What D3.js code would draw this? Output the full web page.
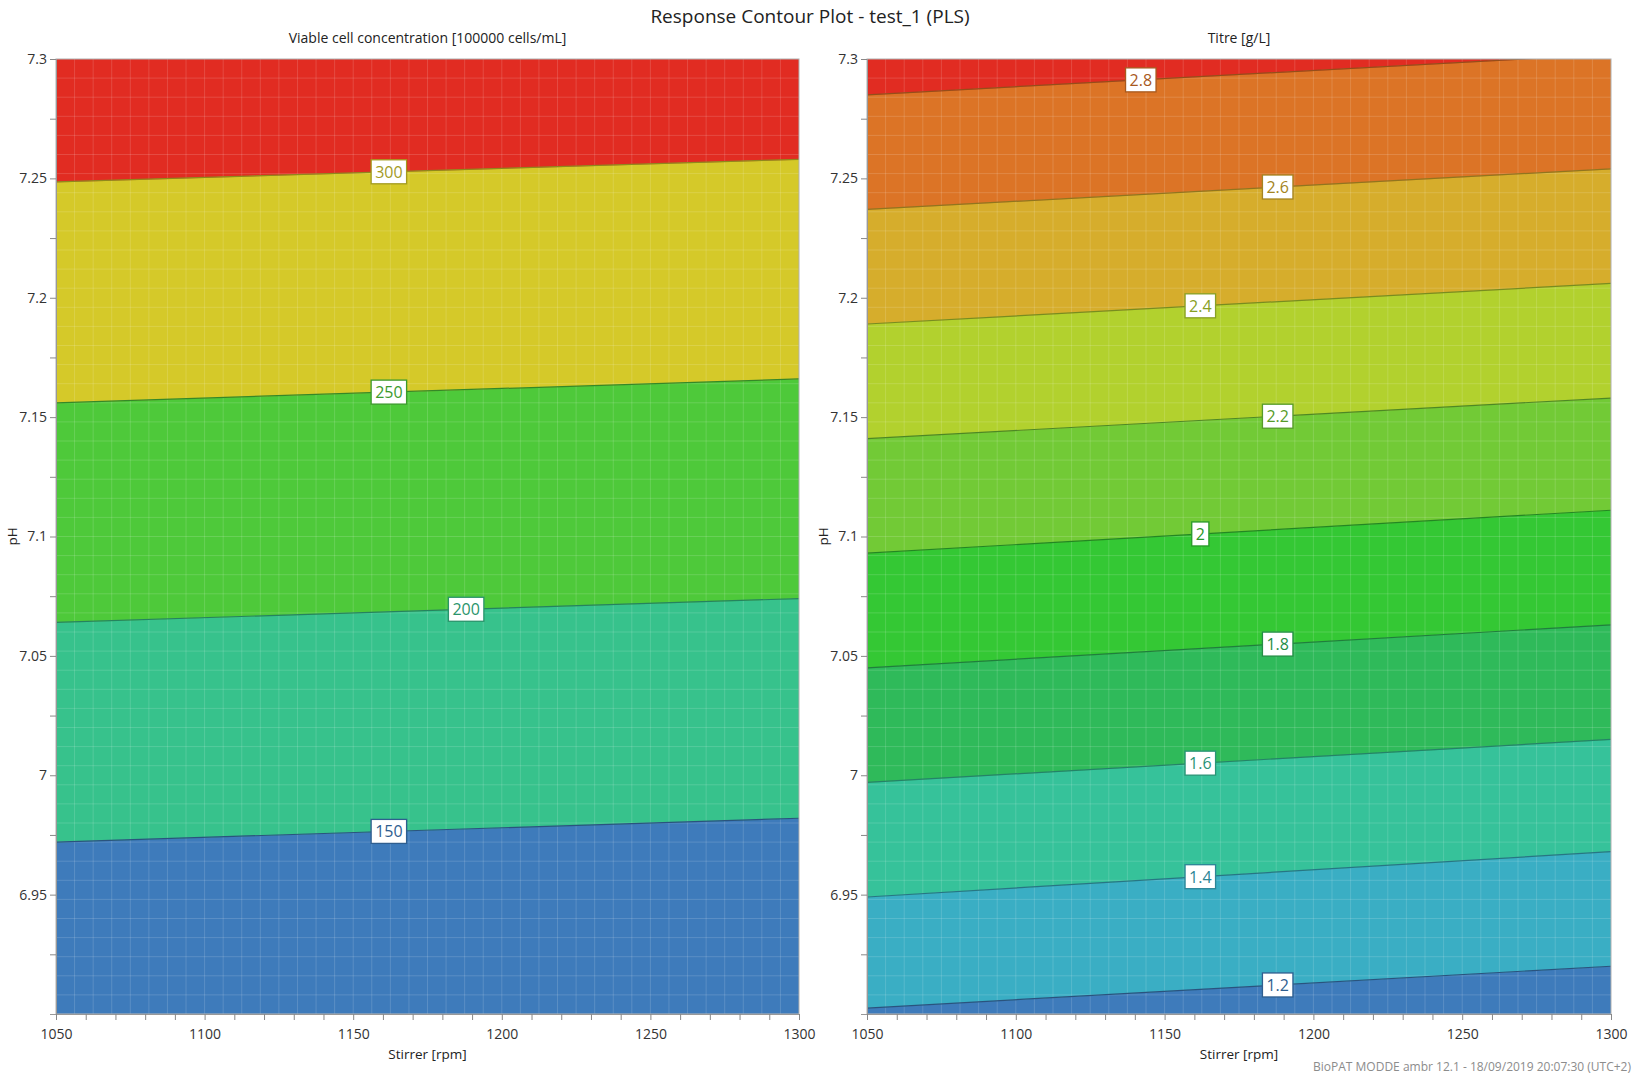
<!DOCTYPE html>
<html>
<head>
<meta charset="utf-8">
<script src="https://cdn.jsdelivr.net/npm/d3@7"></script>
<style>
  body { margin: 0; background: #fff; }
  svg { font-family: "Open Sans", "Noto Sans", sans-serif; }
</style>
</head>
<body>
<svg id="chart" width="1633" height="1075"></svg>
<script>
// axis ranges and ticks
var stirrerDomain = [1050, 1300];
var phDomain = [6.9, 7.3];
var stirrerTicks = [1050, 1100, 1150, 1200, 1250, 1300];
var stirrerMinorTicks = d3.range(1050, 1301, 10);
var phTicks = [6.95, 7, 7.05, 7.1, 7.15, 7.2, 7.25, 7.3];
var phMinorTicks = [6.925, 6.95, 6.975, 7, 7.025, 7.05, 7.075, 7.1, 7.125, 7.15, 7.175, 7.2, 7.225, 7.25, 7.275, 7.3];

// Viable cell concentration contours (pH of each level line at 1050 and 1300 rpm)
var vccLevels = [150, 200, 250, 300];
var vccPhAt1050 = [6.972, 7.064, 7.156, 7.2485];
var vccPhAt1300 = [6.982, 7.074, 7.166, 7.258];
var vccLabelStirrer = [1162, 1188, 1162, 1162];
var vccColors = ['#3e7bbb', '#37c28c', '#4ec93a', '#d5c929', '#e12c22'];

// Titre contours
var titreLevels = [1.2, 1.4, 1.6, 1.8, 2, 2.2, 2.4, 2.6, 2.8];
var titrePhAt1050 = [6.9025, 6.949, 6.997, 7.045, 7.093, 7.141, 7.189, 7.237, 7.285];
var titrePhAt1300 = [6.920, 6.968, 7.015, 7.063, 7.111, 7.158, 7.206, 7.254, 7.302];
var titreLabelStirrer = [1188, 1162, 1162, 1188, 1162, 1188, 1162, 1188, 1142];
var titreColors = ['#3e7bbb', '#3aaec4', '#36c29a', '#2fba5a', '#34c834', '#72ca36', '#b2d12e', '#d6ad2c', '#dc7426', '#e12c22'];

var svg = d3.select('#chart');

var plotTop = 59, plotBottom = 1014;
var panels = [
  { x0: 56, x1: 799, title: 'Viable cell concentration [100000 cells/mL]', levels: vccLevels,
    ph0: vccPhAt1050, ph1: vccPhAt1300, labelAt: vccLabelStirrer, colors: vccColors, id: 'vcc' },
  { x0: 867, x1: 1611, title: 'Titre [g/L]', levels: titreLevels,
    ph0: titrePhAt1050, ph1: titrePhAt1300, labelAt: titreLabelStirrer, colors: titreColors, id: 'titre' }
];

svg.append('text')
  .attr('x', 810).attr('y', 23)
  .attr('text-anchor', 'middle')
  .attr('font-size', '19px')
  .attr('fill', '#222')
  .text('Response Contour Plot - test_1 (PLS)');

panels.forEach(function (p) {
  var x = d3.scaleLinear().domain(stirrerDomain).range([p.x0, p.x1]);
  var y = d3.scaleLinear().domain(phDomain).range([plotBottom, plotTop]);
  var g = svg.append('g');

  g.append('clipPath').attr('id', 'clip-' + p.id)
    .append('rect')
    .attr('x', p.x0).attr('y', plotTop)
    .attr('width', p.x1 - p.x0).attr('height', plotBottom - plotTop);

  var plot = g.append('g').attr('clip-path', 'url(#clip-' + p.id + ')');

  // bands between contour lines
  var n = p.levels.length;
  for (var i = 0; i <= n; i++) {
    var lo0 = i === 0 ? phDomain[0] - 0.1 : p.ph0[i - 1];
    var lo1 = i === 0 ? phDomain[0] - 0.1 : p.ph1[i - 1];
    var hi0 = i === n ? phDomain[1] + 0.1 : p.ph0[i];
    var hi1 = i === n ? phDomain[1] + 0.1 : p.ph1[i];
    var pts = [[x(1050), y(lo0)], [x(1300), y(lo1)], [x(1300), y(hi1)], [x(1050), y(hi0)]];
    plot.append('path')
      .attr('d', 'M' + pts.join('L') + 'Z')
      .attr('fill', p.colors[i])
      .attr('stroke', p.colors[i])
      .attr('stroke-width', 0.5);
  }

  // faint mesh texture
  var meshX = d3.range(stirrerDomain[0], stirrerDomain[1], 6.25);
  var meshY = d3.range(phDomain[0], phDomain[1], 0.008);
  plot.selectAll('.mx').data(meshX).enter().append('line')
    .attr('x1', function (d) { return x(d); }).attr('x2', function (d) { return x(d); })
    .attr('y1', plotTop).attr('y2', plotBottom)
    .attr('stroke', '#fff').attr('stroke-opacity', 0.15).attr('stroke-width', 1);
  plot.selectAll('.my').data(meshY).enter().append('line')
    .attr('y1', function (d) { return y(d); }).attr('y2', function (d) { return y(d); })
    .attr('x1', p.x0).attr('x2', p.x1)
    .attr('stroke', '#fff').attr('stroke-opacity', 0.15).attr('stroke-width', 1);

  // contour lines
  var line = d3.line().x(function (d) { return x(d[0]); }).y(function (d) { return y(d[1]); });
  p.levels.forEach(function (lv, k) {
    plot.append('path')
      .attr('d', line([[1050, p.ph0[k]], [1300, p.ph1[k]]]))
      .attr('fill', 'none')
      .attr('stroke', d3.color(p.colors[k]).darker(1.1))
      .attr('stroke-width', 1.2);
  });

  // frame
  g.append('rect')
    .attr('x', p.x0).attr('y', plotTop)
    .attr('width', p.x1 - p.x0).attr('height', plotBottom - plotTop)
    .attr('fill', 'none').attr('stroke', '#b0b0b0').attr('stroke-width', 1);

  // contour labels
  p.levels.forEach(function (lv, k) {
    var s = p.labelAt[k];
    var t = (s - 1050) / 250;
    var ph = p.ph0[k] + (p.ph1[k] - p.ph0[k]) * t;
    var cx = x(s), cy = y(ph);
    var col = d3.color(p.colors[k]).darker(0.75);
    var lg = g.append('g');
    var box = lg.append('rect').attr('fill', '#fff').attr('stroke', col).attr('stroke-width', 1.3);
    var txt = lg.append('text')
      .attr('x', cx).attr('y', cy + 6)
      .attr('text-anchor', 'middle')
      .attr('font-size', '16px')
      .attr('fill', col)
      .text(lv);
    var w = txt.node().getComputedTextLength() + 8;
    box.attr('x', cx - w / 2).attr('y', cy - 12).attr('width', w).attr('height', 24);
  });

  // axes
  var yAxis = d3.axisLeft(y).tickValues(phMinorTicks).tickSize(6)
    .tickFormat(function (d) { return phTicks.some(function (v) { return Math.abs(v - d) < 1e-9; }) ? d3.format('')(+d.toFixed(3)) : ''; });
  var ya = g.append('g').attr('transform', 'translate(' + p.x0 + ',0)').call(yAxis);
  var xAxis = d3.axisBottom(x).tickValues(stirrerMinorTicks).tickSize(6)
    .tickFormat(function (d) { return stirrerTicks.indexOf(d) >= 0 ? d : ''; });
  var xa = g.append('g').attr('transform', 'translate(0,' + plotBottom + ')').call(xAxis);
  [ya, xa].forEach(function (a) {
    a.select('.domain').attr('stroke', '#999');
    a.selectAll('.tick line').attr('stroke', '#888');
    a.selectAll('.tick text').attr('fill', '#333').attr('font-size', '14px')
      .attr('font-family', '"Open Sans", "Noto Sans", sans-serif');
  });
  xa.selectAll('.tick text').attr('dy', '1.15em');

  // titles
  g.append('text')
    .attr('x', (p.x0 + p.x1) / 2).attr('y', 43)
    .attr('text-anchor', 'middle').attr('font-size', '14px').attr('fill', '#222')
    .text(p.title);
  g.append('text')
    .attr('x', (p.x0 + p.x1) / 2).attr('y', 1059)
    .attr('text-anchor', 'middle').attr('font-size', '13.5px').attr('fill', '#222')
    .text('Stirrer [rpm]');
  g.append('text')
    .attr('transform', 'translate(' + (p.x0 - 39) + ',' + ((plotTop + plotBottom) / 2) + ') rotate(-90)')
    .attr('text-anchor', 'middle').attr('font-size', '13.5px').attr('fill', '#222')
    .text('pH');
});

svg.append('text')
  .attr('x', 1631).attr('y', 1071)
  .attr('text-anchor', 'end').attr('font-size', '12px').attr('fill', '#8c8c8c')
  .text('BioPAT MODDE ambr 12.1 - 18/09/2019 20:07:30 (UTC+2)');
</script>
</body>
</html>
